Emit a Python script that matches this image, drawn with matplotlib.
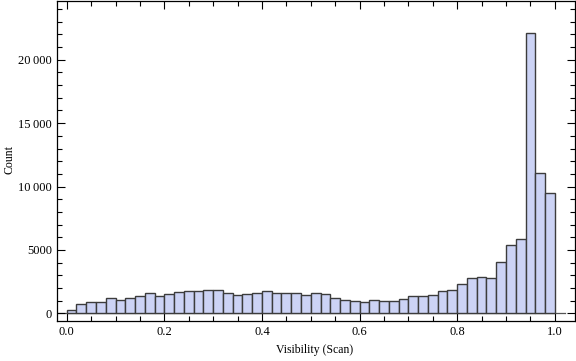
import numpy as np
import matplotlib
matplotlib.use("Agg")
import matplotlib.pyplot as plt
from matplotlib.ticker import MultipleLocator, FixedLocator

plt.rcParams['font.family'] = ['Liberation Serif', 'DejaVu Serif']

# histogram of visibility, 50 bins of width 0.02 on [0, 1]
bin_edges = np.linspace(0, 1, 51)
counts = [260, 710, 860, 860, 1180, 1020, 1180, 1340, 1570, 1340,
          1490, 1650, 1730, 1730, 1880, 1880, 1570, 1410, 1490, 1570,
          1730, 1570, 1570, 1570, 1410, 1570, 1490, 1180, 1050, 970,
          860, 1050, 970, 970, 1130, 1340, 1340, 1440, 1750, 1830,
          2300, 2750, 2900, 2750, 4080, 5370, 5890, 22090, 11090, 9460]

y_ticks = [0, 5000, 10000, 15000, 20000]
y_labels = ['0', '5000', '10\u2009000', '15\u2009000', '20\u2009000']
x_ticks = [0.0, 0.2, 0.4, 0.6, 0.8, 1.0]
x_labels = ['0.0', '0.2', '0.4', '0.6', '0.8', '1.0']

fig = plt.figure(figsize=(5.76, 3.61), dpi=100)
ax = fig.add_axes([0.0984, 0.1116, 0.8996, 0.8854])

ax.bar(bin_edges[:-1], counts, width=np.diff(bin_edges), align='edge',
       color='#ccd3f5', edgecolor='#3c3c3c', linewidth=1.0, zorder=2)
ax.plot([-0.0205, 1.02], [0, 0], color='#555555', lw=0.9, zorder=1)

ax.set_xlim(-0.0205, 1.041)
ax.set_ylim(-580, 24630)

ax.xaxis.set_major_locator(FixedLocator(x_ticks))
ax.set_xticklabels(x_labels)
ax.xaxis.set_minor_locator(MultipleLocator(0.05))
ax.yaxis.set_major_locator(FixedLocator(y_ticks))
ax.set_yticklabels(y_labels)
ax.yaxis.set_minor_locator(MultipleLocator(1000))

ax.tick_params(which='both', direction='in', top=True, right=True,
               labelsize=9, colors='black', width=0.8)
ax.tick_params(which='major', length=6)
ax.tick_params(which='minor', length=3.5)
for s in ax.spines.values():
    s.set_linewidth(0.9)

ax.set_xlabel('Visibility (Scan)', fontsize=8.5, va='center')
ax.xaxis.set_label_coords(0.498, -0.092)
ax.set_ylabel('Count', fontsize=8.5, va='center')
ax.yaxis.set_label_coords(-0.092, 0.503)

fig.savefig('out.png', dpi=100)
